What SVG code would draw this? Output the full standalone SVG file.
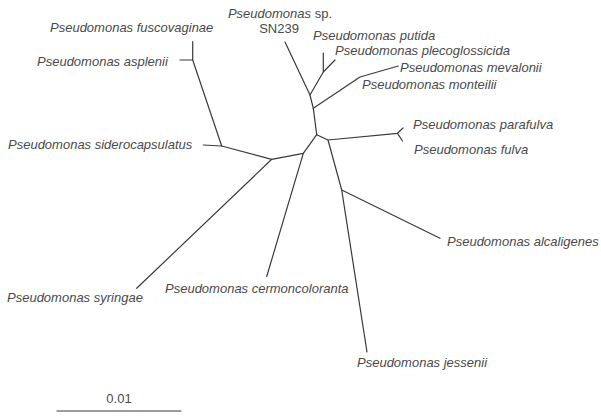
<svg xmlns="http://www.w3.org/2000/svg" width="601" height="416" viewBox="0 0 601 416">
<style>
.br{fill:none;stroke:#3a3a3a;stroke-width:1.2;stroke-linecap:round;stroke-linejoin:round}
.lb{font-family:"Liberation Sans",Arial,sans-serif;font-size:13px;font-style:italic;fill:#4a4a4a}
.up{font-style:normal}
.sc{font-family:"Liberation Sans",Arial,sans-serif;font-size:13px;fill:#4a4a4a}
</style>
<rect width="601" height="416" fill="#ffffff"/>
<g id="connectors">
<path class="br" d="M285,42 L310,95 L323.3,72 L323.3,53"/>
<path class="br" d="M323.3,72 L335,60"/>
<path class="br" d="M310,95 L313.3,108.3 L316.7,134.7"/>
<path class="br" d="M313.3,108.3 L360,77 L398.3,66"/>
<path class="br" d="M316.7,134.7 L328,140 L397.5,133.3 L403,128"/>
<path class="br" d="M397.5,133.3 L402.5,141"/>
<path class="br" d="M328,140 L341.7,190 L367,352"/>
<path class="br" d="M341.7,190 L440,238.3"/>
<path class="br" d="M316.7,134.7 L303.3,153.3 L266.7,276.5"/>
<path class="br" d="M303.3,153.3 L271.7,159.3 L136.7,288.3"/>
<path class="br" d="M271.7,159.3 L221.7,146 L203.3,145"/>
<path class="br" d="M221.7,146 L192.7,60 L192.7,41.7"/>
<path class="br" d="M192.7,60 L180,60"/>
</g>
<g id="fuscovaginae"><text class="lb" x="50" y="32">Pseudomonas fuscovaginae</text></g>
<g id="asplenii"><text class="lb" x="37" y="66">Pseudomonas asplenii</text></g>
<g id="siderocapsulatus"><text class="lb" x="8" y="149">Pseudomonas siderocapsulatus</text></g>
<g id="syringae"><text class="lb" x="7" y="302">Pseudomonas syringae</text></g>
<g id="cermoncoloranta"><text class="lb" x="165" y="293">Pseudomonas cermoncoloranta</text></g>
<g id="jessenii"><text class="lb" x="357" y="367">Pseudomonas jessenii</text></g>
<g id="alcaligenes"><text class="lb" x="447" y="246">Pseudomonas alcaligenes</text></g>
<g id="fulva"><text class="lb" x="414" y="154">Pseudomonas fulva</text></g>
<g id="parafulva"><text class="lb" x="413" y="129">Pseudomonas parafulva</text></g>
<g id="monteilii"><text class="lb" x="362" y="89">Pseudomonas monteilii</text></g>
<g id="mevalonii"><text class="lb" x="400" y="72">Pseudomonas mevalonii</text></g>
<g id="plecoglossicida"><text class="lb" x="335" y="55">Pseudomonas plecoglossicida</text></g>
<g id="putida"><text class="lb" x="313" y="40">Pseudomonas putida</text></g>
<g id="sn239">
<text class="lb" x="280" y="18" text-anchor="middle">Pseudomonas <tspan class="up">sp.</tspan></text>
<text class="lb up" x="279" y="33" text-anchor="middle">SN239</text>
</g>
<g id="scalebar">
<path class="br" d="M57,411 L181,411"/>
<text class="sc" x="119" y="403" text-anchor="middle">0.01</text>
</g>
</svg>
